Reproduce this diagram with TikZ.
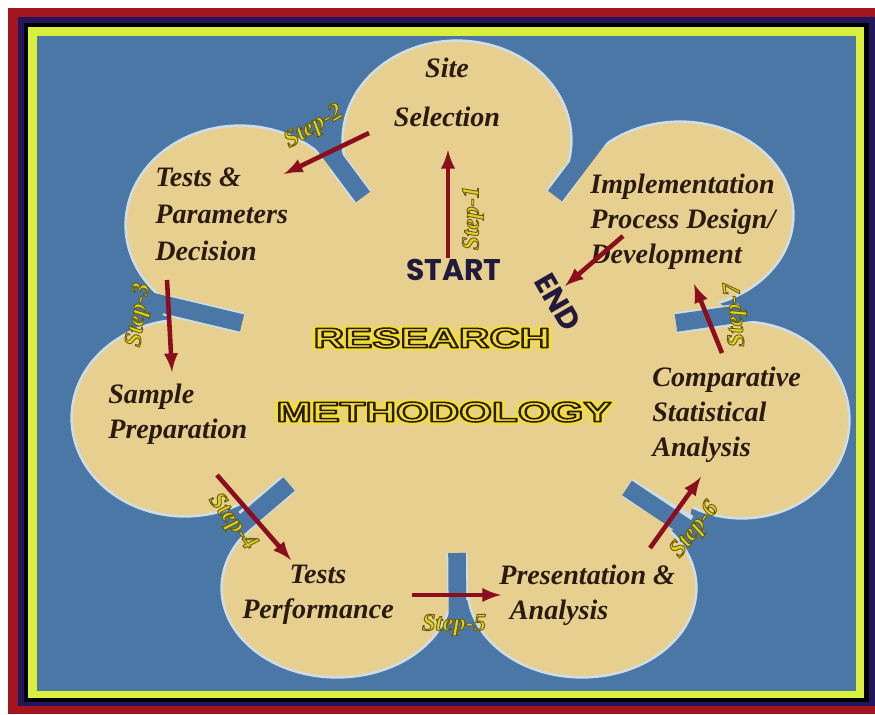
\documentclass[tikz,border=0pt]{standalone}
\usepackage{fontspec}
\setmainfont{Liberation Serif}
\newfontfamily\headfont{Poppins}
\newfontfamily\titlefont{Liberation Sans}
\usetikzlibrary{arrows}

\definecolor{frame}{HTML}{A3161F}
\definecolor{navyband}{HTML}{21175A}
\definecolor{lime}{HTML}{D8EF3C}
\definecolor{sea}{HTML}{4A77A5}
\definecolor{sand}{HTML}{E7D08F}
\definecolor{rim}{HTML}{CFDDE6}
\definecolor{wine}{HTML}{8A0E1E}
\definecolor{ink}{HTML}{2A1A12}
\definecolor{gold}{HTML}{DDD51E}
\definecolor{startink}{HTML}{221A3C}
\definecolor{titlefill}{HTML}{7E6A42}

% outlined text: stroke rgb, stroke width, text
\newcommand\strokedtext[3]{\special{pdf:literal direct #1 RG #2 w 2 Tr}#3\special{pdf:literal direct 0 Tr}}
% yellow glow behind the title letters
\newcommand\glowtext[1]{\rlap{\special{pdf:literal direct 0.95 0.87 0.23 RG 0.95 0.87 0.23 rg 3.2 w 1 J 1 j 2 Tr}#1\special{pdf:literal direct 0 Tr}}\strokedtext{0.16 0.11 0.04}{0.9}{#1}}

\tikzset{
  boxtext/.style={font=\fontsize{16}{20}\selectfont\bfseries\itshape, text=ink, align=left, inner sep=0pt},
  steptext/.style={font=\fontsize{14}{14}\selectfont\bfseries\itshape, text=gold, inner sep=0pt},
  steparrow/.style={-latex, draw=wine, line width=2.6pt},
  cornertext/.style={font=\headfont\bfseries\fontsize{17}{17}\selectfont, text=startink, inner sep=0pt},
  titletext/.style={font=\titlefont\bfseries\fontsize{16}{16}\selectfont, text=titlefill, xscale=1.5, inner sep=0pt},
}

\begin{document}
\begin{tikzpicture}[x=0.02cm,y=-0.02cm]
\useasboundingbox (0,0) rectangle (875,714);
% frame
\fill[frame] (8,8) rectangle (875,714);
\fill[navyband] (18,17) rectangle (875,706);
\fill[black] (24,23) rectangle (869,702);
\fill[lime] (28,27) rectangle (864,698);
\fill[sea] (37,36) rectangle (856,691);

% flower: rims first, then the sand on top
\foreach \cx/\cy/\rx/\ry in {457/140/113/98, 240/225/113/98, 185/418/112/97, 337/588/114/88, 582/588/113/88, 742/420/106/97, 680/215/112/92}
\draw[rim, line width=3pt] (\cx,\cy) ellipse ({\rx} and {\ry});
\foreach \cx/\cy/\rx/\ry in {457/140/113/98, 240/225/113/98, 185/418/112/97, 337/588/114/88, 582/588/113/88, 742/420/106/97, 680/215/112/92}
\fill[sand] (\cx,\cy) ellipse ({\rx} and {\ry});
\fill[sand] (565,183) -- (341,168) -- (165,305) -- (250,517) -- (458,598) -- (688,525) -- (735,315) -- cycle;

% notches (outer / rim start / tip)
\foreach \ox/\oy/\mx/\my/\tx/\ty in {293/103/338/164/363/197, 605/130/572/172/555/196, 95/288/165/305/242/323, 200/560/245/520/289/484, 458/688/458/600/457/553, 735/560/688/525/627/488, 800/305/740/314/676/323}
{
\draw[rim, line width=12pt] (\mx,\my) -- (\tx,\ty);
\draw[sea, line width=10pt] (\ox,\oy) -- (\tx,\ty);
}

% stage texts
\node[boxtext, align=center] (site) at (447,92) {Site\\[8pt]Selection};
\node[boxtext, anchor=west] (tests) at (155,214) {Tests \&\\[1pt]Parameters\\[1pt]Decision};
\node[boxtext, anchor=west] (sample) at (108,414) {Sample\\Preparation};
\node[boxtext, align=center] (perf) at (318,595) {Tests\\Performance};
\node[boxtext, anchor=west] (pres) at (499,595) {Presentation \&\\\hspace{6pt}Analysis};
\node[boxtext, anchor=west] (comp) at (652,415) {Comparative\\Statistical\\Analysis};
\node[boxtext, anchor=west] (impl) at (590,222) {Implementation\\Process Design/\\Development};

\node[cornertext] (start) at (454,270) {START};
\node[cornertext, rotate=-60] (finish) at (558,302) {END};
\node[titletext] (research) at (432,338) {\glowtext{RESEARCH}};
\node[titletext] (method) at (444,412) {\glowtext{METHODOLOGY}};

% arrow ends
\coordinate (a1) at (448,258); \coordinate (b1) at (448,150);
\coordinate (a2) at (369,133); \coordinate (b2) at (284,174);
\coordinate (a3) at (167,280); \coordinate (b3) at (172,372);
\coordinate (a4) at (217,475); \coordinate (b4) at (291,560);
\coordinate (a5) at (412,595); \coordinate (b5) at (501,595);
\coordinate (a6) at (650,548); \coordinate (b6) at (701,477);
\coordinate (a7) at (722,353); \coordinate (b7) at (694,284);
\coordinate (a8) at (623,236); \coordinate (b8) at (565,286);
\foreach \i in {1,...,8}
\draw[steparrow] (a\i) -- (b\i);

% step labels
\node[steptext, rotate=90] (step1) at (473,218) {\strokedtext{0.42 0.35 0.03}{0.5}{Step-1}};
\node[steptext, rotate=31] (step2) at (314,127) {\strokedtext{0.42 0.35 0.03}{0.5}{Step-2}};
\node[steptext, rotate=82] (step3) at (139,315) {\strokedtext{0.42 0.35 0.03}{0.5}{Step-3}};
\node[steptext, rotate=-53] (step4) at (232,522) {\strokedtext{0.42 0.35 0.03}{0.5}{Step-4}};
\node[steptext] (step5) at (454,625) {\strokedtext{0.42 0.35 0.03}{0.5}{Step-5}};
\node[steptext, rotate=52] (step6) at (695,530) {\strokedtext{0.42 0.35 0.03}{0.5}{Step-6}};
\node[steptext, rotate=95] (step7) at (736,315) {\strokedtext{0.42 0.35 0.03}{0.5}{Step-7}};
\end{tikzpicture}
\end{document}
